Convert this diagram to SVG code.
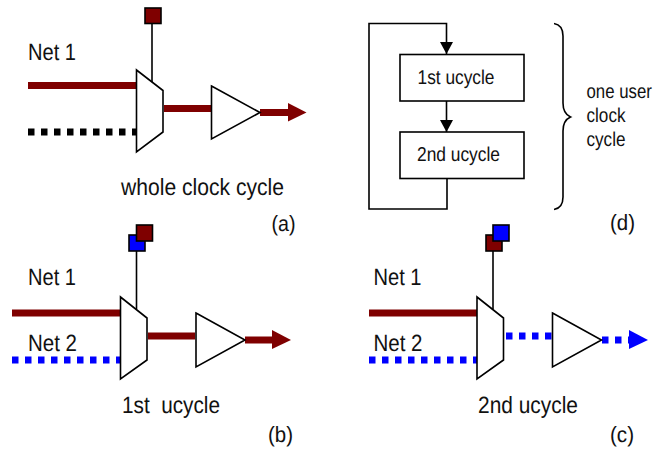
<svg xmlns="http://www.w3.org/2000/svg" width="656" height="452" viewBox="0 0 656 452">
<defs>
<marker id="ah" markerUnits="userSpaceOnUse" markerWidth="13" markerHeight="14" refX="12" refY="6.500" orient="auto"><path d="M0 0L12 6.500L0 13Z" fill="#000"/></marker>
</defs>
<style>
text{font-family:"Liberation Sans",Arial,sans-serif;fill:#111;text-rendering:geometricPrecision}
.l{font-size:23.500px}.s{font-size:20px}.p{font-size:22px}
.sh{fill:#fff;stroke:#000;stroke-width:1.6;stroke-linejoin:miter}
.th{stroke-width:7;fill:none}
.mr{stroke:#7f0000}.bl{stroke:#0000ff}.bk{stroke:#000}
.dot{stroke-dasharray:6.500 6.500}
.w{stroke:#000;stroke-width:1.6;fill:none}
.fm{fill:#7f0000}.fb{fill:#0000ff}
.sq{stroke:#000;stroke-width:1.6}
</style>
<g id="connectors">
<path class="w" d="M152 23V82"/>
<path class="th mr" d="M28 85.500H136"/>
<path class="th bk dot" d="M28 132H136"/>
<path class="th mr" d="M164 108.500H211"/>
<path class="th mr" d="M260 112.500H290"/>
<path class="fm" d="M288 103L306.500 112.500L288 121.500Z"/>
<path class="w" d="M136.500 251V309"/>
<path class="th mr" d="M12 313H120"/>
<path class="th bl dot" d="M12 360H120"/>
<path class="th mr" d="M148 336H195"/>
<path class="th mr" d="M245 340H274"/>
<path class="fm" d="M272 330L291 340L272 349Z"/>
<path class="w" d="M493 251V309"/>
<path class="th mr" d="M369 313H477"/>
<path class="th bl dot" d="M369 360H477"/>
<path class="th bl dot" d="M506 336H552"/>
<path class="th bl dot" d="M602 340H630"/>
<path class="fb" d="M629 330L648 340L629 349Z"/>
<path class="w" d="M447 178.500V209H369V23.500H446.500V54" marker-end="url(#ah)"/>
<path class="w" d="M446.500 101V132" marker-end="url(#ah)"/>
<path class="w" d="M554 23.500C560 24.500 563 28 563 36V103C563 111 566 115 570.500 117C566 119 563 123 563 131V197C563 205 560 208.500 554 209.500"/>
</g>
<g id="node-a">
<rect class="sq fm" x="145" y="8" width="16" height="15.500"/>
<path class="sh" d="M136.500 70L163 90.500V132L136.500 152Z"/>
<path class="sh" d="M211.500 86L260 112.500L211.500 139Z"/>
<text class="l" x="28" y="59.500" textLength="48" lengthAdjust="spacingAndGlyphs">Net 1</text>
<text class="l" x="121" y="195" textLength="163" lengthAdjust="spacingAndGlyphs">whole clock cycle</text>
<text class="p" x="271.500" y="231" textLength="24" lengthAdjust="spacingAndGlyphs">(a)</text>
</g>
<g id="node-b">
<rect class="sq fb" x="129" y="235" width="16" height="16"/>
<rect class="sq fm" x="136.500" y="225" width="16" height="16"/>
<path class="sh" d="M120.500 297L147 318V360L120.500 379Z"/>
<path class="sh" d="M196 313L245 340L196 367Z"/>
<text class="l" x="28" y="284.500" textLength="48" lengthAdjust="spacingAndGlyphs">Net 1</text>
<text class="l" x="28" y="350.500" textLength="49" lengthAdjust="spacingAndGlyphs">Net 2</text>
<text class="l" x="122" y="412.500" textLength="98" lengthAdjust="spacingAndGlyphs" xml:space="preserve">1st  ucycle</text>
<text class="p" x="268" y="442" textLength="25" lengthAdjust="spacingAndGlyphs">(b)</text>
</g>
<g id="node-c">
<rect class="sq fm" x="486" y="235" width="16" height="16"/>
<rect class="sq fb" x="493" y="225" width="16" height="16"/>
<path class="sh" d="M477 297L503.500 318V360L477 379Z"/>
<path class="sh" d="M552.500 313L601.500 340L552.500 367Z"/>
<text class="l" x="373.500" y="284.500" textLength="48" lengthAdjust="spacingAndGlyphs">Net 1</text>
<text class="l" x="373.500" y="350.500" textLength="49" lengthAdjust="spacingAndGlyphs">Net 2</text>
<text class="l" x="478" y="412.500" textLength="100" lengthAdjust="spacingAndGlyphs">2nd ucycle</text>
<text class="p" x="610" y="442" textLength="24" lengthAdjust="spacingAndGlyphs">(c)</text>
</g>
<g id="node-d">
<rect class="sh" x="400" y="54.500" width="124" height="46.500"/>
<rect class="sh" x="400" y="132" width="124" height="46.500"/>
<text class="s" x="417.500" y="84" textLength="77" lengthAdjust="spacingAndGlyphs">1st ucycle</text>
<text class="s" x="417" y="161" textLength="83" lengthAdjust="spacingAndGlyphs">2nd ucycle</text>
<text class="s" transform="translate(586.500 98) scale(.84 1)">one user</text>
<text class="s" x="586.500" y="122" textLength="39" lengthAdjust="spacingAndGlyphs">clock</text>
<text class="s" x="586.500" y="146" textLength="39" lengthAdjust="spacingAndGlyphs">cycle</text>
<text class="p" x="610" y="230" textLength="25" lengthAdjust="spacingAndGlyphs">(d)</text>
</g>
</svg>
